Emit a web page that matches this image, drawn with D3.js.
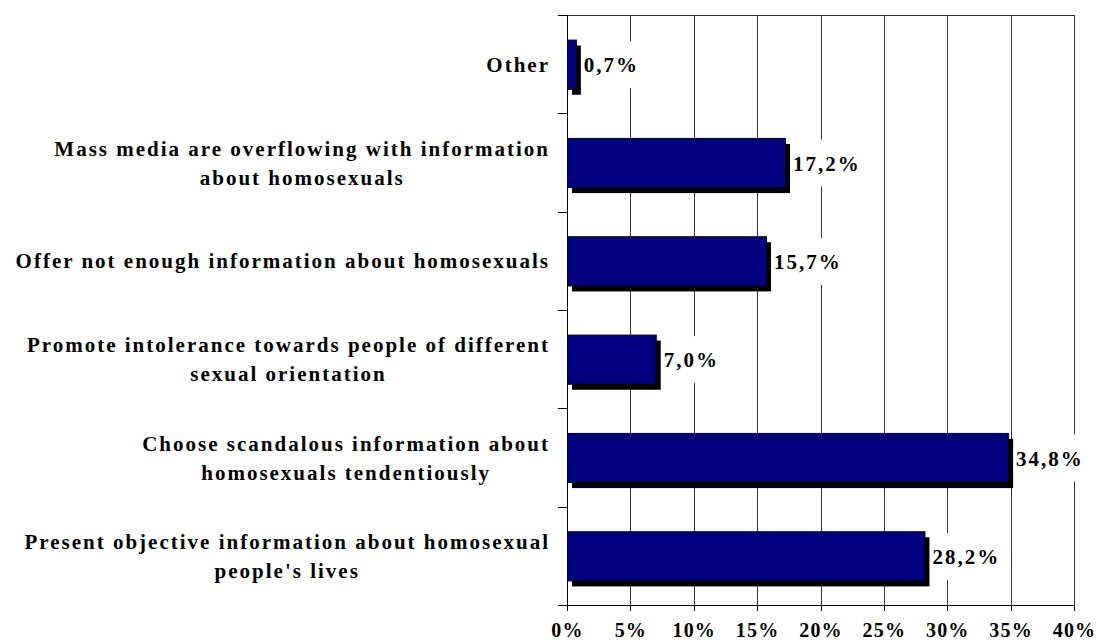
<!DOCTYPE html>
<html>
<head>
<meta charset="utf-8">
<script src="https://cdn.jsdelivr.net/npm/d3@7"></script>
<style>
    html, body { margin: 0; padding: 0; background: #fff; }
    svg { display: block; }
    text { font-family: "Liberation Serif", "Times New Roman", serif; font-weight: bold; fill: #000; letter-spacing: 2px; }
</style>
</head>
<body>
<div id="chart"></div>
<script>
// Answers, top to bottom as drawn (line breaks as in the original)
const categories = [
    'Other',
    'Mass media are overflowing with information\nabout homosexuals',
    'Offer not enough information about homosexuals',
    'Promote intolerance towards people of different\nsexual orientation',
    'Choose scandalous information about\nhomosexuals tendentiously',
    'Present objective information about homosexual\npeople\'s lives'
];
const values = [0.7, 17.2, 15.7, 7.0, 34.8, 28.2];
const tickValues = [0, 5, 10, 15, 20, 25, 30, 35, 40];

const width = 1096, height = 644;
const margin = { top: 15, right: 22, bottom: 39, left: 567 };
const innerW = width - margin.left - margin.right;
const innerH = height - margin.top - margin.bottom;

const svg = d3.select('#chart')
    .append('svg')
    .attr('width', width)
    .attr('height', height);

const g = svg.append('g')
    .attr('transform', `translate(${margin.left},${margin.top})`);

const x = d3.scaleLinear().domain([0, 40]).range([0, innerW]);
const y = d3.scaleBand().domain(categories).range([0, innerH])
    .paddingInner(0.5)
    .paddingOuter(0.25);
const yStep = y.step();

// Vertical gridlines
g.selectAll('.grid')
    .data(tickValues.slice(1))
    .enter()
    .append('line')
    .attr('x1', d => Math.round(x(d)) + 0.5)
    .attr('x2', d => Math.round(x(d)) + 0.5)
    .attr('y1', 0)
    .attr('y2', innerH)
    .attr('stroke', '#333')
    .attr('stroke-width', 1);

// Top border
g.append('line')
    .attr('x1', 0).attr('x2', Math.round(x(40)) + 0.5)
    .attr('y1', 0.5).attr('y2', 0.5)
    .attr('stroke', '#333');

// Shadows then bars
const fmt = v => d3.format('.1f')(v).replace('.', ',') + '%';

g.selectAll('.shadow')
    .data(values)
    .enter()
    .append('rect')
    .attr('x', 5)
    .attr('y', (d, i) => y(categories[i]) + 6)
    .attr('width', d => x(d))
    .attr('height', y.bandwidth())
    .attr('fill', '#000');

g.selectAll('.bar')
    .data(values)
    .enter()
    .append('rect')
    .attr('x', 0.5)
    .attr('y', (d, i) => y(categories[i]) + 0.5)
    .attr('width', d => x(d))
    .attr('height', y.bandwidth())
    .attr('fill', '#000080')
    .attr('stroke', '#000')
    .attr('stroke-width', 1);

// Value labels with white background boxes
const labels = g.selectAll('.val')
    .data(values)
    .enter()
    .append('g')
    .attr('transform', (d, i) => `translate(${x(d) + 8},${y(categories[i]) + y.bandwidth() / 2})`);

labels.each(function (d) {
    const sel = d3.select(this);
    const t = sel.append('text')
        .attr('x', 0)
        .attr('y', 8)
        .style('font-size', '21px')
        .text(fmt(d));
    const w = t.node().getComputedTextLength();
    sel.insert('rect', 'text')
        .attr('x', -2)
        .attr('y', -23)
        .attr('width', w + 2)
        .attr('height', 47)
        .attr('fill', '#fff');
});

// Axes lines
g.append('line')
    .attr('x1', 0.5).attr('x2', 0.5)
    .attr('y1', 0).attr('y2', innerH)
    .attr('stroke', '#000');
g.append('line')
    .attr('x1', -9).attr('x2', Math.round(x(40)) + 1)
    .attr('y1', innerH + 0.5).attr('y2', innerH + 0.5)
    .attr('stroke', '#000');

// Category separators on the left axis
g.selectAll('.ytick')
    .data(d3.range(categories.length))
    .enter()
    .append('line')
    .attr('x1', -9).attr('x2', 0)
    .attr('y1', i => Math.round(i * yStep) + 0.5)
    .attr('y2', i => Math.round(i * yStep) + 0.5)
    .attr('stroke', '#000');

// Bottom ticks and labels
g.selectAll('.xtick')
    .data(tickValues)
    .enter()
    .append('line')
    .attr('x1', d => Math.round(x(d)) + 0.5)
    .attr('x2', d => Math.round(x(d)) + 0.5)
    .attr('y1', innerH)
    .attr('y2', innerH + 6)
    .attr('stroke', '#000');

g.selectAll('.xlabel')
    .data(tickValues)
    .enter()
    .append('text')
    .attr('x', d => x(d) + 0.5)
    .attr('y', innerH + 32)
    .attr('text-anchor', 'middle')
    .style('font-size', '20px')
    .style('letter-spacing', '1.2px')
    .text(d => d + '%');

// Category labels: block right-aligned, lines centred within it
const lineH = 29;
categories.forEach(c => {
    const lines = c.split('\n');
    const cy = y(c) + y.bandwidth() / 2;
    const grp = g.append('g');
    const texts = lines.map((ln, k) => grp.append('text')
        .attr('y', cy + 7.5 + (k - (lines.length - 1) / 2) * lineH)
        .attr('text-anchor', 'middle')
        .style('font-size', '21px')
        .text(ln));
    const maxW = d3.max(texts, t => t.node().getComputedTextLength());
    texts.forEach(t => t.attr('x', -17 - maxW / 2));
});
</script>
</body>
</html>
